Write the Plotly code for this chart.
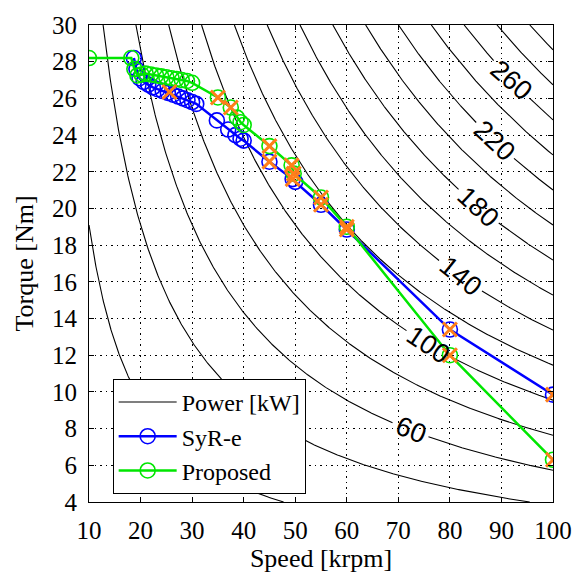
import numpy as np
import plotly.graph_objects as go

# ---- data ----
syre_speed = [18.7, 19.2, 19.8, 20.6, 21.5, 22.4, 23.3, 24.3, 25.3, 26.3, 27.3, 28.2, 29.1, 30.0, 30.8,
              34.8, 37.0, 38.4, 39.4, 40.0, 45.0, 49.5, 50.0, 55.0, 60.0, 80.0, 100.0]
syre_torque = [28.2, 27.6, 27.1, 26.9, 26.75, 26.6, 26.5, 26.4, 26.3, 26.2, 26.1, 26.0, 25.9, 25.8, 25.7,
               24.8, 24.3, 24.0, 23.8, 23.7, 22.55, 21.6, 21.45, 20.2, 18.85, 13.4, 9.85]

prop_speed = [10.0, 18.2, 18.8, 19.4, 20.2, 21.0, 22.0, 23.0, 24.0, 25.0, 26.0, 27.0, 28.0, 29.0, 30.0,
              35.0, 37.5, 38.7, 39.4, 40.0, 45.0, 49.3, 49.7, 55.0, 60.0, 80.0, 100.0]
prop_torque = [28.2, 28.2, 27.6, 27.25, 27.3, 27.35, 27.3, 27.25, 27.2, 27.15, 27.1, 27.05, 27.0, 26.95, 26.85,
               26.05, 25.5, 24.95, 24.7, 24.55, 23.4, 22.35, 21.9, 20.6, 19.0, 12.0, 6.3]

mark_speed = [25.6, 35.0, 37.5, 45.0, 45.0, 49.3, 49.7, 49.5, 55.0, 55.0, 60.0, 60.0, 80.0, 80.0, 100.0, 100.0]
mark_torque = [26.35, 26.05, 25.5, 23.4, 22.55, 22.35, 21.9, 21.6, 20.6, 20.2, 19.0, 18.85, 13.4, 12.0, 9.85, 6.3]

power_levels = list(range(20, 301, 20))                    # kW, iso-power curves
label_levels = [60, 100, 140, 180, 220, 260]               # kW
label_speeds = [72.4, 75.9, 82.0, 85.5, 88.7, 91.9]        # krpm where label sits
label_angles = [22, 34, 39, 43, 43, 41]

x_ticks = [10, 20, 30, 40, 50, 60, 70, 80, 90, 100]
y_ticks = list(range(4, 31, 2))
x_range = [10, 100]
y_range = [4, 30]

K = 2 * np.pi / 60  # kW per (Nm * krpm)

SERIF = "Liberation Serif"
SANS = "Liberation Sans"

# approximate pixel scale of the plot area (used only to cut gaps for the labels)
PLOT_W, PLOT_H = 468, 485
sx = PLOT_W / (x_range[1] - x_range[0])
sy = PLOT_H / (y_range[1] - y_range[0])

fig = go.Figure()
first = True
for P in power_levels:
    n0 = max(x_range[0], P / (K * y_range[1]))
    n1 = min(x_range[1], P / (K * y_range[0]))
    if n0 >= n1:
        continue
    n = np.linspace(n0, n1, 500)
    t = P / (K * n)
    xs = list(n)
    ys = list(t)
    if P in label_levels:
        i = label_levels.index(P)
        ln = label_speeds[i]
        lt = P / (K * ln)
        d = np.hypot((n - ln) * sx, (t - lt) * sy)
        r = 26 if P >= 100 else 19
        ys = [None if dd < r else tt for dd, tt in zip(d, t)]
    fig.add_trace(go.Scatter(
        x=xs, y=ys, mode="lines", name="Power [kW]", legendgroup="power",
        showlegend=first, line=dict(color="black", width=1.1), hoverinfo="skip",
        connectgaps=False))
    first = False

fig.add_trace(go.Scatter(
    x=syre_speed, y=syre_torque, mode="lines+markers", name="SyR-e",
    line=dict(color="#0000ff", width=2.5),
    marker=dict(symbol="circle-open", size=15, color="#0000ff", line=dict(width=1.6))))
fig.add_trace(go.Scatter(
    x=prop_speed, y=prop_torque, mode="lines+markers", name="Proposed",
    line=dict(color="#00e600", width=2.5),
    marker=dict(symbol="circle-open", size=15, color="#00e600", line=dict(width=1.6))))
fig.add_trace(go.Scatter(
    x=mark_speed, y=mark_torque, mode="markers", showlegend=False,
    marker=dict(symbol="x-thin-open", size=14, color="#ff7f1a", line=dict(width=3, color="#ff7f1a"))))

for lvl, sp, ang in zip(label_levels, label_speeds, label_angles):
    fig.add_annotation(x=sp, y=lvl / (K * sp), text=str(lvl), showarrow=False,
                       textangle=ang, font=dict(family=SANS, size=27, color="black"))

axis_common = dict(showline=True, linecolor="black", linewidth=1, mirror="ticks",
                   ticks="inside", ticklen=5, tickcolor="black",
                   showgrid=True, gridcolor="black", griddash="1.5px,4px", gridwidth=1,
                   zeroline=False, tickfont=dict(family=SERIF, size=25, color="black"))

fig.update_xaxes(range=x_range, tickvals=x_ticks, ticklabelstandoff=6,
                 title=dict(text="Speed [krpm]", font=dict(family=SERIF, size=26, color="black"), standoff=4),
                 **axis_common)
fig.update_yaxes(range=y_range, tickvals=y_ticks, ticklabelstandoff=6,
                 title=dict(text="Torque [Nm]", font=dict(family=SERIF, size=26, color="black"), standoff=10),
                 **axis_common)

fig.update_layout(
    width=584, height=578,
    margin=dict(l=89, r=27, t=18, b=75),
    plot_bgcolor="white", paper_bgcolor="white",
    showlegend=True,
    legend=dict(x=0.051, y=0.258, xanchor="left", yanchor="top",
                bgcolor="white", bordercolor="black", borderwidth=1,
                font=dict(family=SERIF, size=24, color="black"),
                itemwidth=58, tracegroupgap=0),
)

fig.write_html("out.html")
